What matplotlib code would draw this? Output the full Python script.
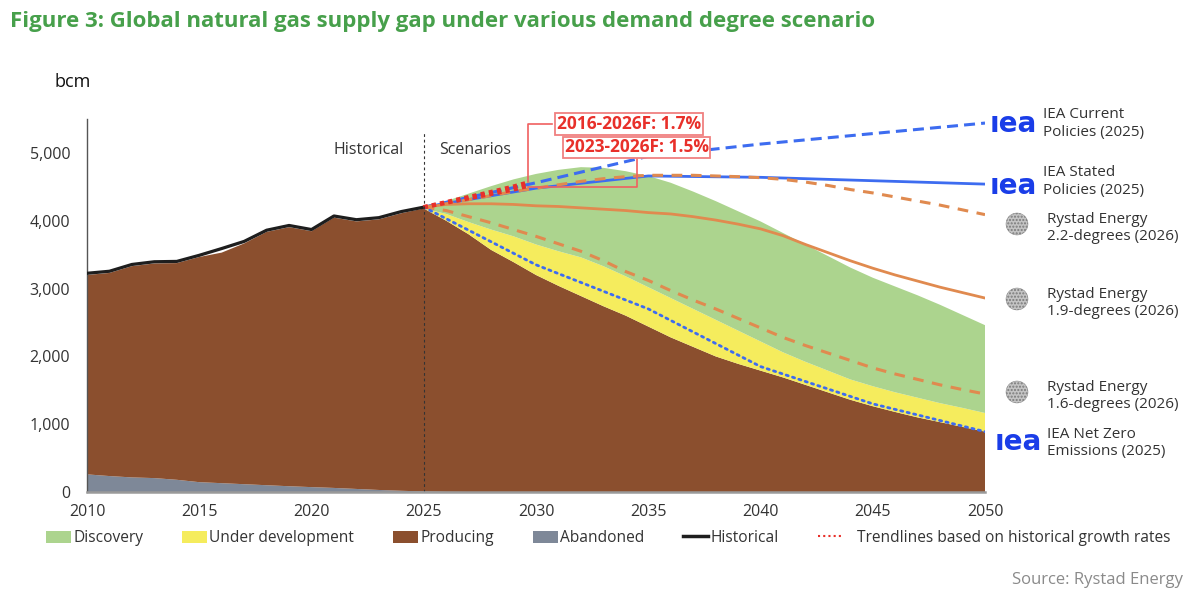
import numpy as np
import matplotlib
matplotlib.use("Agg")
import matplotlib.pyplot as plt
from matplotlib.patches import Patch, Circle
from matplotlib.lines import Line2D

plt.rcParams['font.family'] = ['Open Sans', 'DejaVu Sans']

# ---------------- data ----------------
years = list(range(2010, 2051))
hist_years = list(range(2010, 2026))
historical = [3225, 3255, 3355, 3395, 3400, 3490, 3590, 3695, 3860, 3930,
              3870, 4070, 4015, 4045, 4135, 4200]

abandoned = [260, 235, 215, 205, 180, 145, 130, 115, 100, 85, 72, 60, 45, 30, 18, 8,
             2] + [0] * 24
producing = [2940, 2995, 3115, 3165, 3195, 3320, 3400, 3550, 3735, 3820,
             3773, 3985, 3945, 3990, 4092, 4172,
             3998, 3800, 3570, 3390, 3200, 3040, 2890, 2740, 2600, 2440,
             2280, 2140, 2000, 1890, 1790, 1690, 1580, 1470, 1360, 1265,
             1180, 1100, 1030, 960, 890]
under_dev = [0] * 16 + [100, 180, 300, 380, 450, 510, 570, 590, 580, 580,
                        580, 560, 540, 490, 430, 370, 340, 320, 300, 295,
                        290, 290, 280, 280, 275]
discovery = [0] * 16 + [190, 420, 640, 840, 1040, 1200, 1330, 1450, 1550, 1640,
                        1700, 1730, 1750, 1760, 1770, 1760, 1730, 1690, 1650, 1600,
                        1560, 1510, 1450, 1370, 1295]

iea_years = [2025, 2030, 2035, 2040, 2050]
iea_current = [4200, 4560, 4950, 5130, 5440]
iea_stated = [4200, 4480, 4660, 4640, 4540]
nze_years = [2025, 2030, 2035, 2040, 2045, 2050]
iea_nze = [4200, 3350, 2700, 1850, 1300, 890]

scen_years = list(range(2025, 2051))
rystad_22 = [4200, 4250, 4310, 4370, 4430, 4480, 4530, 4580, 4620, 4650, 4670,
             4670, 4670, 4660, 4650, 4635, 4610, 4570, 4520, 4460, 4410,
             4350, 4290, 4230, 4160, 4090]
rystad_19 = [4200, 4240, 4250, 4250, 4240, 4220, 4210, 4190, 4170, 4150, 4120,
             4100, 4060, 4010, 3950, 3880, 3780, 3650, 3530, 3410, 3300,
             3200, 3110, 3020, 2940, 2860]
rystad_16 = [4200, 4150, 4060, 3970, 3870, 3770, 3660, 3550, 3410, 3250, 3120,
             2970, 2830, 2700, 2560, 2420, 2280, 2160, 2050, 1940, 1830,
             1740, 1660, 1580, 1510, 1445]

trend1_years = [2025, 2026, 2027, 2028, 2029, 2029.7]
trend1 = [4200, 4275, 4350, 4425, 4505, 4570]
trend2_years = [2025, 2026, 2027, 2028, 2029, 2029.6]
trend2 = [4200, 4265, 4330, 4395, 4460, 4510]

x_ticks = [2010, 2015, 2020, 2025, 2030, 2035, 2040, 2045, 2050]
y_ticks = [0, 1000, 2000, 3000, 4000, 5000]

# ---------------- colors ----------------
c_disc = '#acd48e'
c_dev = '#f5ec5d'
c_prod = '#8b4f2e'
c_aban = '#7e8898'
c_blue = '#3d6cf0'
c_orange = '#e08a4f'
c_red = '#e8302a'
c_text = '#333333'

W, H = 1200, 607
fig = plt.figure(figsize=(W / 100, H / 100), dpi=100)
ax = fig.add_axes([87 / W, 1 - 492 / H, (985 - 87) / W, (492 - 119) / H])

ax.stackplot(years, abandoned, producing, under_dev, discovery,
             colors=[c_aban, c_prod, c_dev, c_disc], linewidth=0, zorder=1)

ax.plot(hist_years, historical, color='#1e1e1e', lw=2.3, zorder=5,
        solid_joinstyle='round')

ax.plot(iea_years, iea_current, color=c_blue, lw=2.2, ls=(0, (3.6, 2.0)), zorder=4)
ax.plot(iea_years, iea_stated, color=c_blue, lw=2.0, zorder=4)
ax.plot(scen_years, rystad_22, color=c_orange, lw=2.2, ls=(0, (3.5, 2.8)), zorder=4)
ax.plot(scen_years, rystad_19, color=c_orange, lw=2.0, zorder=4)
ax.plot(scen_years, rystad_16, color=c_orange, lw=2.2, ls=(0, (3.5, 2.8)), zorder=4)
ax.plot(nze_years, iea_nze, color=c_blue, lw=2.0, ls=(0, (0.8, 1.6)),
        dash_capstyle='round', zorder=4)
ax.plot(trend1_years, trend1, color=c_red, lw=3.0, ls=(0, (1, 1)), zorder=6)
ax.plot(trend2_years, trend2, color=c_red, lw=3.0, ls=(0, (1, 1)), zorder=6)

ax.axvline(2025, ymin=0, ymax=5300 / 5500, color='#333333', lw=0.8,
           ls=(0, (2.5, 2.5)), zorder=7)

ax.set_xlim(2010, 2050)
ax.set_ylim(0, 5500)
ax.set_xticks(x_ticks)
ax.set_xticklabels([str(v) for v in x_ticks])
ax.set_yticks(y_ticks)
ax.set_yticklabels([f"{v:,}" for v in y_ticks])
ax.tick_params(axis='both', length=0, labelsize=11.5, colors=c_text)
ax.tick_params(axis='x', pad=9)
ax.tick_params(axis='y', pad=12)
for s in ['top', 'right']:
    ax.spines[s].set_visible(False)
ax.spines['left'].set_color('#555555')
ax.spines['left'].set_linewidth(1.0)
ax.spines['bottom'].set_color('#9a9a9a')
ax.spines['bottom'].set_linewidth(1.8)
ax.spines['bottom'].set_zorder(8)
ax.set_facecolor('none')

# Historical / Scenarios labels
ax.text(2024.1, 5045, 'Historical', ha='right', va='center', fontsize=11.5, color=c_text)
ax.text(2025.7, 5045, 'Scenarios', ha='left', va='center', fontsize=11.5, color=c_text)

# annotation boxes
box_kw = dict(boxstyle='square,pad=0.1', facecolor='white', edgecolor='#f08080', lw=1.3)
ax.text(2034.14, 5428, '2016-2026F: 1.7%', ha='center', va='center', fontsize=12.5,
        fontweight='bold', color=c_red, bbox=box_kw, zorder=10)
ax.text(2034.48, 5081, '2023-2026F: 1.5%', ha='center', va='center', fontsize=12.5,
        fontweight='bold', color=c_red, bbox=box_kw, zorder=10)
ax.plot([2030.71, 2029.63, 2029.63], [5428, 5428, 4572], color='#f06060', lw=1.2, zorder=9)
ax.plot([2029.63, 2034.48, 2034.48], [4494, 4494, 4945], color='#f06060', lw=1.2, zorder=9)

# title, unit, source
fig.text(10 / W, 1 - 22 / H, 'Figure 3: Global natural gas supply gap under various demand degree scenario',
         ha='left', va='center', fontsize=16, fontweight='bold', color='#47a04b')
fig.text(55 / W, 1 - 82 / H, 'bcm', ha='left', va='center', fontsize=13, color='#111111')
fig.text(1183 / W, 1 - 580 / H, 'Source: Rystad Energy', ha='right', va='center',
         fontsize=12, color='#8a8a8a')

# right-hand labels
def ftxt(x, y, s, **kw):
    fig.text(x / W, 1 - y / H, s, **kw)

lab_kw = dict(ha='left', va='center', fontsize=11, color=c_text, linespacing=1.25)
logo_kw = dict(ha='left', va='center', fontsize=20, fontweight='heavy', color='#1a3de8',
               family=['DejaVu Sans'])
ftxt(990, 124, 'ıea', **logo_kw)
ftxt(1043, 123.5, 'IEA Current\nPolicies (2025)', **lab_kw)
ftxt(990, 186, 'ıea', **logo_kw)
ftxt(1043, 181.5, 'IEA Stated\nPolicies (2025)', **lab_kw)
ftxt(995, 442, 'ıea', **logo_kw)
ftxt(1047, 443, 'IEA Net Zero\nEmissions (2025)', **lab_kw)
for yc, txt in [(224, 'Rystad Energy\n2.2-degrees (2026)'),
                (299, 'Rystad Energy\n1.9-degrees (2026)'),
                (392, 'Rystad Energy\n1.6-degrees (2026)')]:
    circ = Circle((1017 / 100, (H - yc) / 100), 0.11, transform=fig.dpi_scale_trans,
                  facecolor='#c4c4c4', edgecolor='#7a7a7a', hatch='.....', lw=0.3)
    fig.patches.append(circ)
    ftxt(1047, yc + 4, txt, **lab_kw)

# legend
handles = [Patch(facecolor=c_disc, label='Discovery'),
           Patch(facecolor=c_dev, label='Under development'),
           Patch(facecolor=c_prod, label='Producing'),
           Patch(facecolor=c_aban, label='Abandoned'),
           Line2D([], [], color='#1e1e1e', lw=2.5, label='Historical'),
           Line2D([], [], color=c_red, lw=1.5, ls=(0, (1, 1.5)),
                  label='   Trendlines based on historical growth rates')]
leg = fig.legend(handles=handles, loc='center left', bbox_to_anchor=(46 / W, 1 - 538 / H),
                 ncol=6, frameon=False, fontsize=11.2, handlelength=1.6, handleheight=0.8,
                 handletextpad=0.15, columnspacing=2.5, borderpad=0, borderaxespad=0)
for t in leg.get_texts():
    t.set_color(c_text)

fig.savefig('out.png', dpi=100)
